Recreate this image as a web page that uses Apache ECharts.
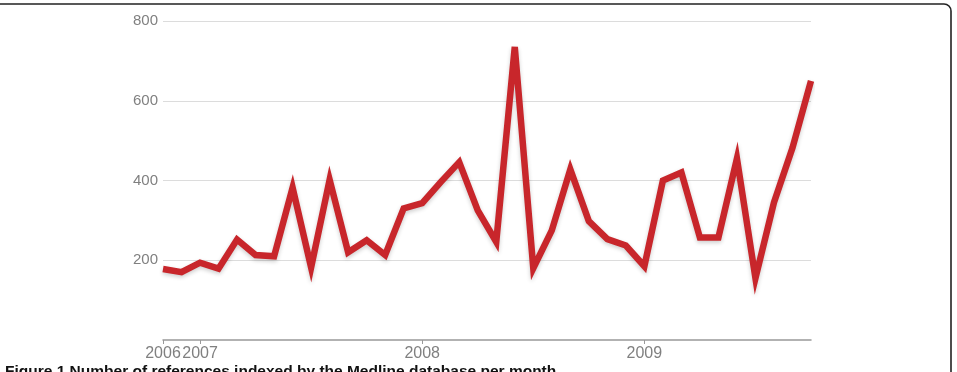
<!DOCTYPE html>
<html>
<head>
<meta charset="utf-8">
<script src="https://cdn.jsdelivr.net/npm/echarts@6/dist/echarts.min.js"></script>
<style>
html,body{margin:0;padding:0;background:#fff;}
#chart{width:957px;height:372px;}
</style>
</head>
<body>
<div id="chart"></div>
<script>
// months Nov 2006 .. Oct 2009
var months = [];
for (var y = 2006; y <= 2009; y++) {
    for (var m = 1; m <= 12; m++) {
        if (y == 2006 && m < 11) continue;
        if (y == 2009 && m > 10) continue;
        months.push(y + '-' + (m < 10 ? '0' + m : m));
    }
}
// values
var counts = [178, 170, 194, 179, 252, 213, 210, 382, 182, 402,
              220, 250, 213, 330, 343, 396, 446, 325, 246, 735,
              180, 275, 428, 298, 253, 237, 185, 400, 420, 257,
              257, 455, 155, 345, 482, 650];
// year tick labels and where they sit
var tickIndex = [0, 2, 14, 26];
var tickYears = ['2006', '2007', '2008', '2009'];
var yTicks = [200, 400, 600, 800];

var caption = 'Figure 1 Number of references indexed by the Medline database per month';

function isTick(i){
    return tickIndex.indexOf(i) >= 0;
}

var mychart = echarts.init(document.getElementById('chart'));
var option = {
    animation: false,
    grid: {left: 163, right: 146, top: 21, bottom: 32},
    xAxis: {
        type: 'category',
        data: months,
        boundaryGap: false,
        axisLine: {lineStyle: {color: '#999', width: 1.5}},
        axisTick: {
            interval: function(i){ return isTick(i); },
            length: 4,
            lineStyle: {color: '#999'}
        },
        axisLabel: {
            interval: function(i){ return isTick(i); },
            formatter: function(v, i){ return tickYears[tickIndex.indexOf(i)]; },
            color: '#808080',
            fontFamily: 'Liberation Sans',
            fontSize: 16,
            margin: 6
        },
        splitLine: {show: false}
    },
    yAxis: {
        type: 'value',
        min: 0,
        max: 800,
        interval: 200,
        axisLine: {show: false},
        axisTick: {show: false},
        axisLabel: {
            color: '#808080',
            fontFamily: 'Liberation Sans',
            fontSize: 15,
            margin: 5,
            formatter: function(v){ return yTicks.indexOf(v) >= 0 ? String(v) : ''; }
        },
        splitLine: {
            lineStyle: {color: '#dcdcdc', width: 1},
            showMinLine: false
        }
    },
    series: [{
        type: 'line',
        data: counts,
        symbol: 'none',
        lineStyle: {
            color: '#c8262b',
            width: 6.5,
            join: 'miter',
            shadowColor: 'rgba(0,0,0,0.2)',
            shadowBlur: 4,
            shadowOffsetY: 2
        },
        z: 3
    }],
    graphic: [
        {
            type: 'rect',
            shape: {x: -10, y: 4, width: 961, height: 420, r: 7},
            style: {fill: 'none', stroke: '#222', lineWidth: 1.6},
            silent: true
        },
        {
            type: 'text',
            left: 5,
            top: 364,
            style: {
                text: caption,
                fill: '#111',
                font: 'bold 15.5px "Liberation Sans"'
            },
            silent: true
        }
    ]
};
mychart.setOption(option);
</script>
</body>
</html>
